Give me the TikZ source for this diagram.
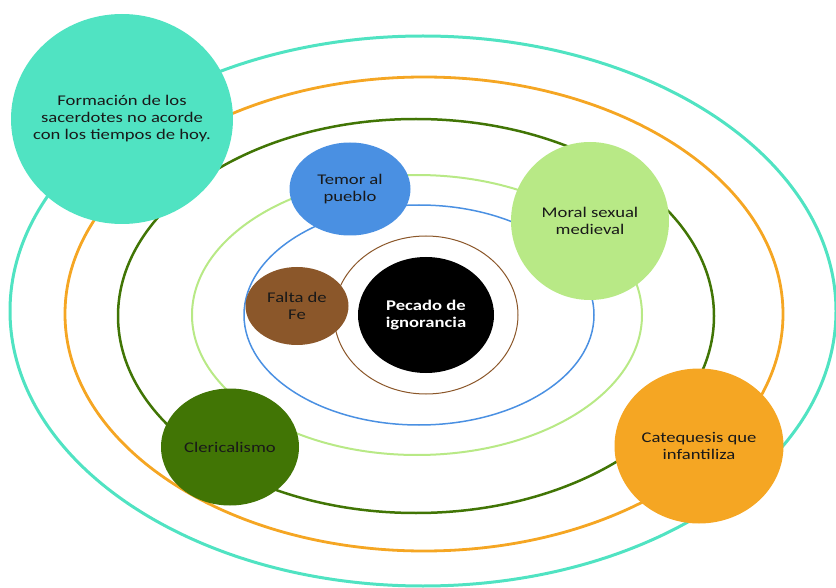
\documentclass[tikz,border=0pt]{standalone}
\usepackage{fontspec}
\setmainfont{Carlito}[FakeStretch=1.26]
\usetikzlibrary{shapes.geometric}
\definecolor{cteal}{HTML}{50E3C2}
\definecolor{corange}{HTML}{F5A623}
\definecolor{cdgreen}{HTML}{417505}
\definecolor{clgreen}{HTML}{B8E986}
\definecolor{cblue}{HTML}{4A90E2}
\definecolor{cbrown}{HTML}{8B572A}
\tikzset{
  ring/.style={ellipse, draw, fill=none, inner sep=0pt},
  bubble/.style={ellipse, inner sep=0pt},
  label text/.style={inner sep=0pt, align=center, text=black!90,
    font=\fontsize{14.8}{17}\selectfont},
}
\begin{document}
\begin{tikzpicture}[x=1pt,y=-1pt]
\useasboundingbox (0,0) rectangle (836,588);
% rings
\node[ring, draw=cteal, line width=3pt, minimum width=826pt, minimum height=550pt] (r1) at (423,311) {};
\node[ring, draw=corange, line width=2.8pt, minimum width=718pt, minimum height=474pt] (r2) at (424,314) {};
\node[ring, draw=cdgreen, line width=2.5pt, minimum width=596pt, minimum height=394pt] (r3) at (416,316) {};
\node[ring, draw=clgreen, line width=2pt, minimum width=450pt, minimum height=280pt] (r4) at (417,315) {};
\node[ring, draw=cblue, line width=1.5pt, minimum width=350pt, minimum height=220pt] (r5) at (419,315) {};
\node[ring, draw=cbrown, line width=1pt, minimum width=184pt, minimum height=158pt] (r6) at (426,315) {};
% bubbles
\node[bubble, fill=black, minimum width=136pt, minimum height=116pt] (core) at (426,315) {};
\node[bubble, fill=cteal, minimum width=222pt, minimum height=210pt] (form) at (122,119) {};
\node[bubble, fill=cblue, minimum width=121pt, minimum height=93pt] (temor) at (350,189) {};
\node[bubble, fill=clgreen, minimum width=158pt, minimum height=158pt] (moral) at (590,221) {};
\node[bubble, fill=cbrown, minimum width=103pt, minimum height=78pt] (falta) at (297,306) {};
\node[bubble, fill=cdgreen, minimum width=138pt, minimum height=117pt] (cleri) at (230,447) {};
\node[bubble, fill=corange, minimum width=169pt, minimum height=155pt] (cate) at (699,446) {};
% texts
\node[label text, text=white, font=\fontsize{14.8}{17}\selectfont\bfseries] (tcore) at (core.center) {Pecado de\\ignorancia};
\node[label text] (tform) at (form.center) {Formación de los\\sacerdotes no acorde\\con los tiempos de hoy.};
\node[label text] (ttemor) at (temor.center) {Temor al\\pueblo};
\node[label text] (tmoral) at (moral.center) {Moral sexual\\medieval};
\node[label text] (tfalta) at (falta.center) {Falta de\\Fe};
\node[label text] (tcleri) at (cleri.center) {Clericalismo};
\node[label text] (tcate) at (cate.center) {Catequesis que\\infantiliza};
\end{tikzpicture}
\end{document}
